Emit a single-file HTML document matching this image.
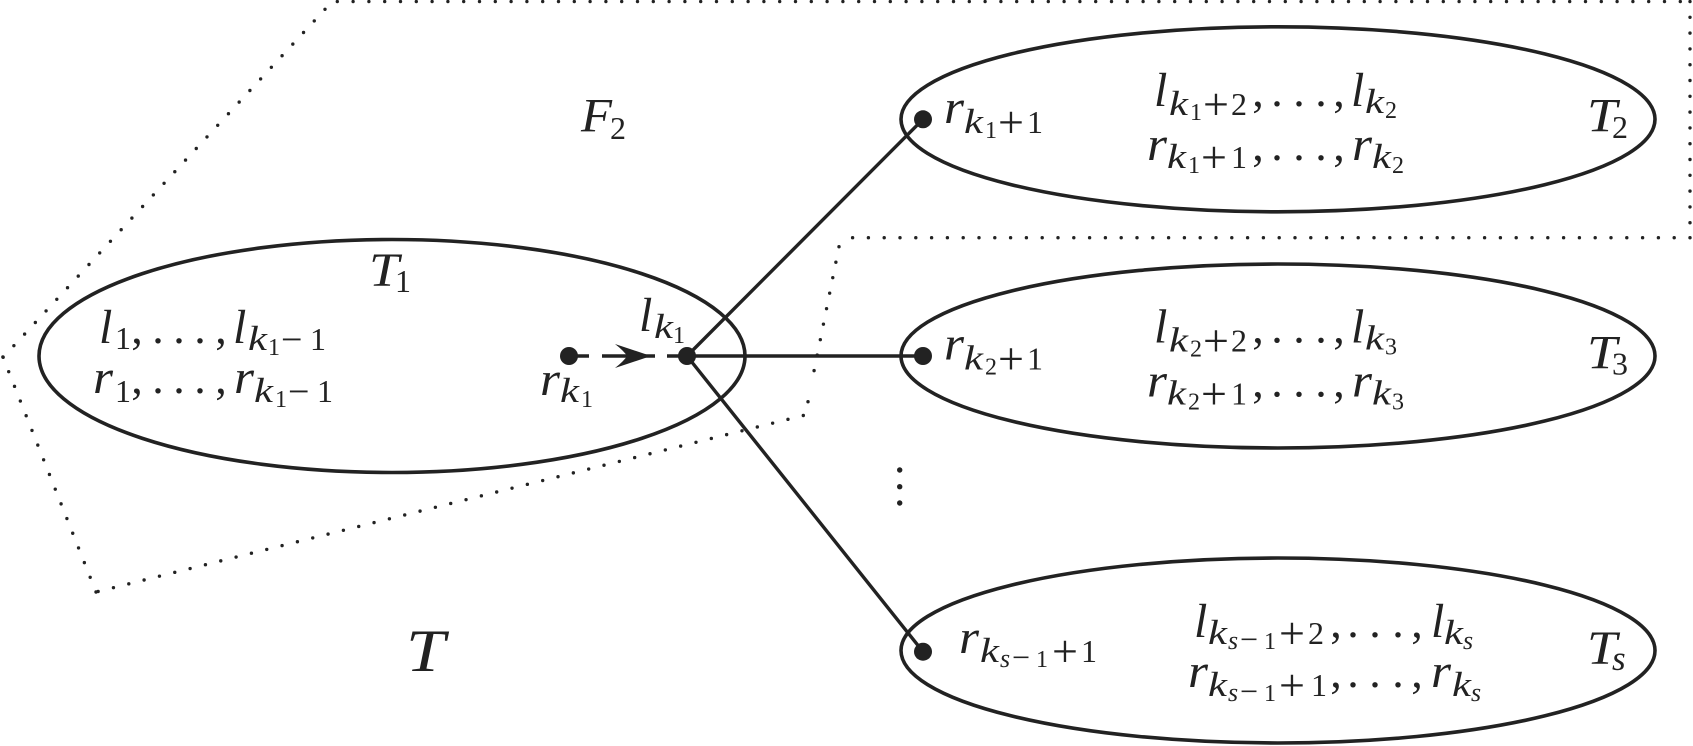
<!DOCTYPE html>
<html lang="en"><head><meta charset="utf-8"><title>Diagram</title>
<style>
html,body{margin:0;padding:0;background:#fff;width:1693px;height:746px;overflow:hidden}
svg{display:block}
text{font-family:"Liberation Serif",serif;fill:#222}
.m{font-style:italic;font-size:48px}
.s{font-style:italic;font-size:35px}
.ss{font-style:italic;font-size:26px}
.n{font-size:32px}
.n2{font-size:24px}
.pl{font-size:46px}
.mi{font-size:38px}
.mi2{font-size:32px}
.p{font-size:46px;text-anchor:middle}
.e{fill:none;stroke:#222;stroke-width:3.6}
.l{stroke:#222;stroke-width:3.4;fill:none}
.d{stroke:#222;stroke-width:3.4;fill:none;stroke-linecap:round;stroke-dasharray:0 15.8}
</style></head><body>
<svg width="1693" height="746" viewBox="0 0 1693 746" xmlns="http://www.w3.org/2000/svg">
<!-- dotted outline -->
<path class="d" d="M337.3 1.5H1690"/>
<path class="d" d="M1690 1.5V237.7"/>
<path class="d" d="M1690 237.7H847.3"/>
<path class="d" d="M839 246.7L811 386"/>
<path class="d" d="M808 401.7L803.3 415.5"/>
<path class="d" d="M803.3 415.5L96 592"/>
<path class="d" d="M96 592L2.5 356"/>
<path class="d" d="M325 9.3L2.5 358"/>
<!-- ellipses -->
<ellipse class="e" cx="392" cy="356" rx="353" ry="116.5"/>
<ellipse class="e" cx="1278" cy="119.3" rx="377" ry="92.5"/>
<ellipse class="e" cx="1278" cy="356" rx="377" ry="92"/>
<ellipse class="e" cx="1278" cy="650.5" rx="377" ry="92.5"/>
<!-- connectors -->
<path class="l" d="M687 356L923 119.3M687 356H923M687 356L923 651.7"/>
<path class="l" d="M569 356H589M602 356H655M667 356H687"/>
<path fill="#222" d="M651 356L615 344Q624 351 627 356Q624 361 615 368Z"/>
<circle cx="569" cy="356" r="9" fill="#222"/>
<circle cx="687" cy="356" r="9" fill="#222"/>
<circle cx="923" cy="119.3" r="9" fill="#222"/>
<circle cx="923" cy="356" r="9" fill="#222"/>
<circle cx="923" cy="651.7" r="9" fill="#222"/>
<circle cx="899.7" cy="470" r="2.7" fill="#222"/>
<circle cx="899.7" cy="486.7" r="2.7" fill="#222"/>
<circle cx="899.7" cy="503" r="2.7" fill="#222"/>
<!-- free labels -->
<text class="m" x="581" y="131.7" textLength="31" lengthAdjust="spacingAndGlyphs">F</text><text class="n" x="610" y="139">2</text>
<text class="m" style="font-size:60px" x="406" y="671" textLength="39" lengthAdjust="spacingAndGlyphs">T</text>
<!-- T1 -->
<text class="m" x="369" y="286" textLength="30" lengthAdjust="spacingAndGlyphs">T</text><text class="n" x="395" y="292">1</text>
<g>
<text class="m" x="99" y="343">l</text><text class="n" x="115" y="349">1</text>
<text class="p" x="137" y="343">,</text><text class="p" x="158" y="343">.</text><text class="p" x="179" y="343">.</text><text class="p" x="200" y="343">.</text><text class="p" x="221" y="343">,</text>
<text class="m" x="233" y="343">l</text><text class="s" x="248" y="350" textLength="19" lengthAdjust="spacingAndGlyphs">k</text><text class="n2" x="268" y="355">1</text><text class="mi" x="281" y="352">−</text><text class="n" x="310" y="350">1</text>
<text class="m" x="93" y="393" textLength="20" lengthAdjust="spacingAndGlyphs">r</text><text class="n" x="115" y="402">1</text>
<text class="p" x="137" y="393">,</text><text class="p" x="158" y="393">.</text><text class="p" x="179" y="393">.</text><text class="p" x="200" y="393">.</text><text class="p" x="221" y="393">,</text>
<text class="m" x="234" y="393" textLength="20" lengthAdjust="spacingAndGlyphs">r</text><text class="s" x="254" y="402" textLength="19" lengthAdjust="spacingAndGlyphs">k</text><text class="n2" x="275" y="407">1</text><text class="mi" x="288" y="404">−</text><text class="n" x="317" y="402">1</text>
</g>
<text class="m" x="639" y="331">l</text><text class="s" x="654" y="338" textLength="19" lengthAdjust="spacingAndGlyphs">k</text><text class="n2" x="673" y="343">1</text>
<text class="m" x="540" y="395" textLength="20" lengthAdjust="spacingAndGlyphs">r</text><text class="s" x="560" y="402" textLength="19" lengthAdjust="spacingAndGlyphs">k</text><text class="n2" x="581" y="407">1</text>
<!-- T2 -->
<g>
<text class="m" x="944" y="123" textLength="20" lengthAdjust="spacingAndGlyphs">r</text><text class="s" x="964" y="133" textLength="19" lengthAdjust="spacingAndGlyphs">k</text><text class="n2" x="985" y="138">1</text><text class="pl" x="998" y="137.5">+</text><text class="n" x="1027" y="133">1</text>
<text class="m" x="1154" y="106">l</text><text class="s" x="1169" y="115" textLength="19" lengthAdjust="spacingAndGlyphs">k</text><text class="n2" x="1190" y="120">1</text><text class="pl" x="1203" y="119.5">+</text><text class="n" x="1231" y="115">2</text>
<text class="p" x="1258" y="106">,</text><text class="p" x="1277" y="106">.</text><text class="p" x="1299" y="106">.</text><text class="p" x="1321" y="106">.</text><text class="p" x="1339" y="106">,</text>
<text class="m" x="1351" y="106">l</text><text class="s" x="1365" y="113" textLength="19" lengthAdjust="spacingAndGlyphs">k</text><text class="n2" x="1385" y="118">2</text>
<text class="m" x="1147" y="160" textLength="20" lengthAdjust="spacingAndGlyphs">r</text><text class="s" x="1167" y="168" textLength="19" lengthAdjust="spacingAndGlyphs">k</text><text class="n2" x="1188" y="173">1</text><text class="pl" x="1201" y="172.5">+</text><text class="n" x="1231" y="168">1</text>
<text class="p" x="1258" y="160">,</text><text class="p" x="1277" y="160">.</text><text class="p" x="1299" y="160">.</text><text class="p" x="1321" y="160">.</text><text class="p" x="1339" y="160">,</text>
<text class="m" x="1352" y="160" textLength="20" lengthAdjust="spacingAndGlyphs">r</text><text class="s" x="1372" y="168" textLength="19" lengthAdjust="spacingAndGlyphs">k</text><text class="n2" x="1392" y="173">2</text>
<text class="m" x="1587" y="131.7" textLength="30" lengthAdjust="spacingAndGlyphs">T</text><text class="n" x="1612" y="138">2</text>
</g>
<!-- T3 -->
<g transform="translate(0,236.7)">
<text class="m" x="944" y="123" textLength="20" lengthAdjust="spacingAndGlyphs">r</text><text class="s" x="964" y="133" textLength="19" lengthAdjust="spacingAndGlyphs">k</text><text class="n2" x="985" y="138">2</text><text class="pl" x="998" y="137.5">+</text><text class="n" x="1027" y="133">1</text>
<text class="m" x="1154" y="106">l</text><text class="s" x="1169" y="115" textLength="19" lengthAdjust="spacingAndGlyphs">k</text><text class="n2" x="1190" y="120">2</text><text class="pl" x="1203" y="119.5">+</text><text class="n" x="1231" y="115">2</text>
<text class="p" x="1258" y="106">,</text><text class="p" x="1277" y="106">.</text><text class="p" x="1299" y="106">.</text><text class="p" x="1321" y="106">.</text><text class="p" x="1339" y="106">,</text>
<text class="m" x="1351" y="106">l</text><text class="s" x="1365" y="113" textLength="19" lengthAdjust="spacingAndGlyphs">k</text><text class="n2" x="1385" y="118">3</text>
<text class="m" x="1147" y="160" textLength="20" lengthAdjust="spacingAndGlyphs">r</text><text class="s" x="1167" y="168" textLength="19" lengthAdjust="spacingAndGlyphs">k</text><text class="n2" x="1188" y="173">2</text><text class="pl" x="1201" y="172.5">+</text><text class="n" x="1231" y="168">1</text>
<text class="p" x="1258" y="160">,</text><text class="p" x="1277" y="160">.</text><text class="p" x="1299" y="160">.</text><text class="p" x="1321" y="160">.</text><text class="p" x="1339" y="160">,</text>
<text class="m" x="1352" y="160" textLength="20" lengthAdjust="spacingAndGlyphs">r</text><text class="s" x="1372" y="168" textLength="19" lengthAdjust="spacingAndGlyphs">k</text><text class="n2" x="1392" y="173">3</text>
<text class="m" x="1587" y="131.7" textLength="30" lengthAdjust="spacingAndGlyphs">T</text><text class="n" x="1612" y="138">3</text>
</g>
<!-- Ts -->
<g>
<text class="m" x="959" y="653" textLength="20" lengthAdjust="spacingAndGlyphs">r</text><text class="s" x="980" y="662" textLength="19" lengthAdjust="spacingAndGlyphs">k</text><text class="ss" x="1000" y="667">s</text><text class="mi2" x="1012" y="668">−</text><text class="n2" x="1036" y="667">1</text><text class="pl" x="1052" y="666.5">+</text><text class="n" x="1081" y="662">1</text>
<text class="m" x="1194" y="637">l</text><text class="s" x="1208" y="644" textLength="19" lengthAdjust="spacingAndGlyphs">k</text><text class="ss" x="1228" y="649">s</text><text class="mi2" x="1240" y="650">−</text><text class="n2" x="1264" y="649">1</text><text class="pl" x="1279" y="648.5">+</text><text class="n" x="1308" y="644">2</text>
<text class="p" x="1336" y="637">,</text><text class="p" x="1353" y="637">.</text><text class="p" x="1375" y="637">.</text><text class="p" x="1398" y="637">.</text><text class="p" x="1417" y="637">,</text>
<text class="m" x="1431" y="637">l</text><text class="s" x="1444" y="644" textLength="19" lengthAdjust="spacingAndGlyphs">k</text><text class="ss" x="1463" y="649">s</text>
<text class="m" x="1188" y="687" textLength="20" lengthAdjust="spacingAndGlyphs">r</text><text class="s" x="1208" y="696" textLength="19" lengthAdjust="spacingAndGlyphs">k</text><text class="ss" x="1228" y="701">s</text><text class="mi2" x="1240" y="702">−</text><text class="n2" x="1264" y="701">1</text><text class="pl" x="1279" y="700.5">+</text><text class="n" x="1311" y="696">1</text>
<text class="p" x="1336" y="687">,</text><text class="p" x="1353" y="687">.</text><text class="p" x="1375" y="687">.</text><text class="p" x="1398" y="687">.</text><text class="p" x="1417" y="687">,</text>
<text class="m" x="1431" y="687" textLength="20" lengthAdjust="spacingAndGlyphs">r</text><text class="s" x="1452" y="696" textLength="19" lengthAdjust="spacingAndGlyphs">k</text><text class="ss" x="1471" y="701">s</text>
<text class="m" x="1587" y="664" textLength="30" lengthAdjust="spacingAndGlyphs">T</text><text class="s" x="1612" y="670">s</text>
</g>
</svg>
</body></html>
